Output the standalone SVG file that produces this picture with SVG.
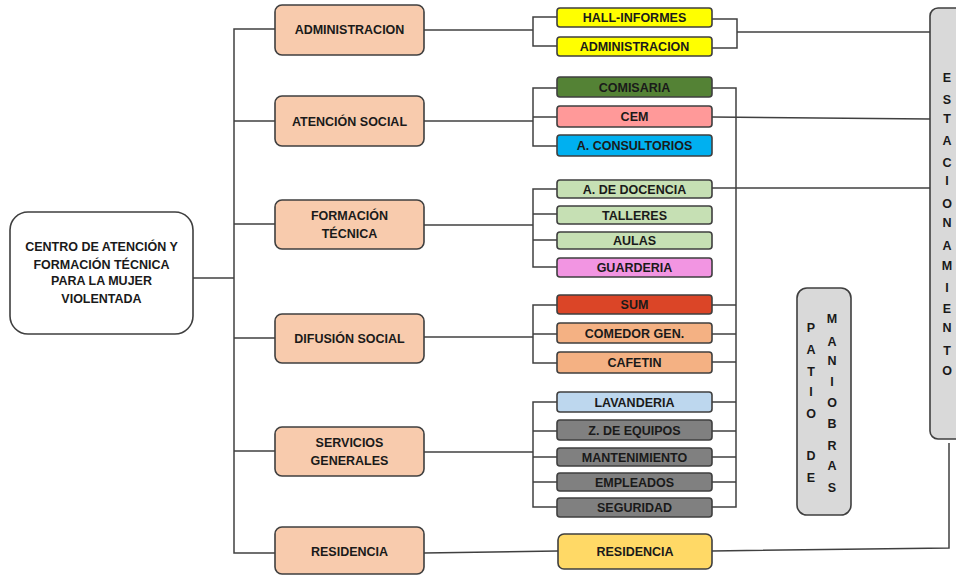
<svg xmlns="http://www.w3.org/2000/svg" width="956" height="575" viewBox="0 0 956 575">
<style>
  text { font-family: "Liberation Sans", Arial, sans-serif; font-weight: bold; font-size: 12.5px; fill: #1a1a1a; text-anchor: middle; }
  .box { stroke: #3f3f3f; stroke-width: 1.6; }
  .main { fill: #ffffff; }
  .l1 { fill: #f8cbad; }
  .conn path { fill: none; stroke: #404040; stroke-width: 1.5; }
  .gray { fill: #d9d9d9; }
  .v { font-size: 13px; }
</style>
<rect width="956" height="575" fill="#ffffff"/>

<g id="connectors" class="conn">
  <path d="M193,278 H234"/>
  <path d="M275,29 H234 V553 H275"/>
  <path d="M234,121 H275 M234,224 H275 M234,338 H275 M234,451 H275"/>
  <!-- administracion -->
  <path d="M424,30 H533"/>
  <path d="M557,17 H533 V46 H557"/>
  <path d="M712,19 H737 V48 H712"/>
  <path d="M737,32 H930"/>
  <!-- atencion social -->
  <path d="M424,121 H533"/>
  <path d="M557,88 H533 V146 H557 M533,117 H557"/>
  <path d="M712,117 L930,119"/>
  <!-- formacion tecnica -->
  <path d="M424,225 H533"/>
  <path d="M557,189 H533 V267 H557 M533,214 H557 M533,240 H557"/>
  <path d="M712,188 H930"/>
  <!-- difusion social -->
  <path d="M424,337 H533"/>
  <path d="M557,305 H533 V363 H557 M533,334 H557"/>
  <!-- servicios generales -->
  <path d="M424,452 H533"/>
  <path d="M557,402 H533 V507 H557 M533,431 H557 M533,457 H557 M533,482 H557"/>
  <!-- right vertical collector -->
  <path d="M712,88 H736 V507 H712"/>
  <path d="M712,305 H736 M712,334 H736 M712,362 H736 M712,402 H736 M712,431 H736 M712,457 H736 M712,482 H736"/>
  <!-- residencia -->
  <path d="M424,553 L558,551"/>
  <path d="M712,551 L949,548 V443"/>
</g>

<g id="centro">
  <rect class="box main" x="10" y="212" width="183" height="122" rx="18"/>
  <text x="101.5" y="251">CENTRO DE ATENCIÓN Y</text>
  <text x="101.5" y="268.5">FORMACIÓN TÉCNICA</text>
  <text x="101.5" y="285">PARA LA MUJER</text>
  <text x="101.5" y="302.5">VIOLENTADA</text>
</g>

<g id="n-administracion">
  <rect class="box l1" x="275" y="5" width="149" height="50" rx="7"/>
  <text x="349.5" y="34">ADMINISTRACION</text>
</g>
<g id="n-atencion">
  <rect class="box l1" x="275" y="96" width="149" height="50" rx="7"/>
  <text x="349.5" y="125.5">ATENCIÓN SOCIAL</text>
</g>
<g id="n-formacion">
  <rect class="box l1" x="275" y="200" width="149" height="49" rx="7"/>
  <text x="349.5" y="220">FORMACIÓN</text>
  <text x="349.5" y="237.5">TÉCNICA</text>
</g>
<g id="n-difusion">
  <rect class="box l1" x="275" y="314" width="149" height="49" rx="7"/>
  <text x="349.5" y="343">DIFUSIÓN SOCIAL</text>
</g>
<g id="n-servicios">
  <rect class="box l1" x="275" y="427" width="149" height="49" rx="7"/>
  <text x="349.5" y="447">SERVICIOS</text>
  <text x="349.5" y="465">GENERALES</text>
</g>
<g id="n-residencia">
  <rect class="box l1" x="275" y="527" width="149" height="47" rx="7"/>
  <text x="349.5" y="555.5">RESIDENCIA</text>
</g>

<g id="s-hall">
  <rect class="box" fill="#ffff00" x="557" y="8" width="155" height="19" rx="3"/>
  <text x="634.5" y="22">HALL-INFORMES</text>
</g>
<g id="s-administracion">
  <rect class="box" fill="#ffff00" x="557" y="37" width="155" height="19" rx="3"/>
  <text x="634.5" y="51">ADMINISTRACION</text>
</g>
<g id="s-comisaria">
  <rect class="box" fill="#548235" x="557" y="77" width="155" height="20" rx="3"/>
  <text x="634.5" y="91.5">COMISARIA</text>
</g>
<g id="s-cem">
  <rect class="box" fill="#ff9999" x="557" y="106" width="155" height="21" rx="3"/>
  <text x="634.5" y="121">CEM</text>
</g>
<g id="s-consultorios">
  <rect class="box" fill="#00b0f0" x="557" y="135" width="155" height="21" rx="3"/>
  <text x="634.5" y="150">A. CONSULTORIOS</text>
</g>
<g id="s-docencia">
  <rect class="box" fill="#c6e0b4" x="557" y="180" width="155" height="18" rx="3"/>
  <text x="634.5" y="193.5">A. DE DOCENCIA</text>
</g>
<g id="s-talleres">
  <rect class="box" fill="#c6e0b4" x="557" y="206" width="155" height="18" rx="3"/>
  <text x="634.5" y="219.5">TALLERES</text>
</g>
<g id="s-aulas">
  <rect class="box" fill="#c6e0b4" x="557" y="232" width="155" height="17" rx="3"/>
  <text x="634.5" y="245">AULAS</text>
</g>
<g id="s-guarderia">
  <rect class="box" fill="#f295e2" x="557" y="258" width="155" height="19" rx="3"/>
  <text x="634.5" y="272">GUARDERIA</text>
</g>
<g id="s-sum">
  <rect class="box" fill="#db4527" x="557" y="295" width="155" height="19" rx="3"/>
  <text x="634.5" y="309">SUM</text>
</g>
<g id="s-comedor">
  <rect class="box" fill="#f4b183" x="557" y="323" width="155" height="20" rx="3"/>
  <text x="634.5" y="337.5">COMEDOR GEN.</text>
</g>
<g id="s-cafetin">
  <rect class="box" fill="#f4b183" x="557" y="352" width="155" height="21" rx="3"/>
  <text x="634.5" y="367">CAFETIN</text>
</g>
<g id="s-lavanderia">
  <rect class="box" fill="#bdd7ee" x="557" y="392" width="155" height="20" rx="3"/>
  <text x="634.5" y="406.5">LAVANDERIA</text>
</g>
<g id="s-equipos">
  <rect class="box" fill="#808080" x="557" y="420" width="155" height="20" rx="3"/>
  <text x="634.5" y="434.5">Z. DE EQUIPOS</text>
</g>
<g id="s-mantenimiento">
  <rect class="box" fill="#808080" x="557" y="448" width="155" height="18" rx="3"/>
  <text x="634.5" y="461.5">MANTENIMIENTO</text>
</g>
<g id="s-empleados">
  <rect class="box" fill="#808080" x="557" y="473" width="155" height="18" rx="3"/>
  <text x="634.5" y="486.5">EMPLEADOS</text>
</g>
<g id="s-seguridad">
  <rect class="box" fill="#808080" x="557" y="498" width="155" height="19" rx="3"/>
  <text x="634.5" y="512">SEGURIDAD</text>
</g>
<g id="s-residencia">
  <rect class="box" fill="#ffd966" x="558" y="534" width="154" height="35" rx="6"/>
  <text x="635" y="556">RESIDENCIA</text>
</g>

<g id="patio">
  <rect class="box gray" x="797" y="288" width="54" height="227" rx="10"/>
  <g class="v">
    <text x="811" y="332">P</text>
    <text x="811" y="353.5">A</text>
    <text x="811" y="376">T</text>
    <text x="811" y="395.5">I</text>
    <text x="811" y="418">O</text>
    <text x="811" y="460">D</text>
    <text x="811" y="481.5">E</text>
    <text x="832" y="323">M</text>
    <text x="832" y="346">A</text>
    <text x="832" y="365">N</text>
    <text x="832" y="386">I</text>
    <text x="832" y="407">O</text>
    <text x="832" y="428">B</text>
    <text x="832" y="450">R</text>
    <text x="832" y="470">A</text>
    <text x="832" y="492">S</text>
  </g>
</g>

<g id="estacionamiento">
  <rect class="box gray" x="930" y="8" width="40" height="431" rx="8"/>
  <g class="v">
    <text x="947" y="82">E</text>
    <text x="947" y="104">S</text>
    <text x="947" y="123">T</text>
    <text x="947" y="145">A</text>
    <text x="947" y="167">C</text>
    <text x="947" y="185">I</text>
    <text x="947" y="208">O</text>
    <text x="947" y="227">N</text>
    <text x="947" y="250">A</text>
    <text x="947" y="270">M</text>
    <text x="947" y="292">I</text>
    <text x="947" y="313">E</text>
    <text x="947" y="332">N</text>
    <text x="947" y="355">T</text>
    <text x="947" y="375">O</text>
  </g>
</g>
</svg>
